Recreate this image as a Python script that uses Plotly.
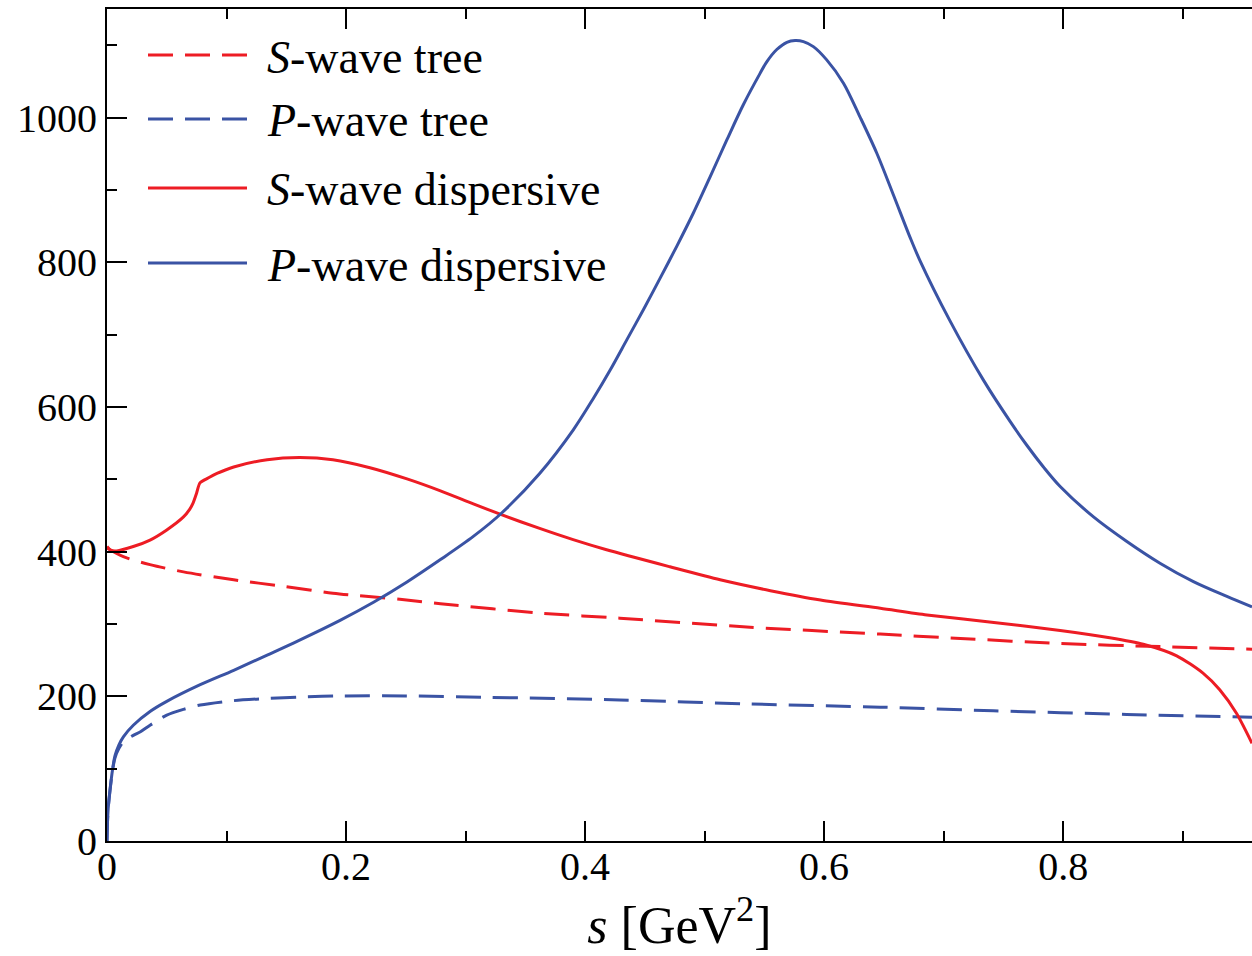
import plotly.graph_objects as go

# ---------------- data ----------------
s_tree_x = [0.0, 0.0137, 0.036, 0.064, 0.106, 0.148, 0.189, 0.245, 0.279, 0.362,
            0.429, 0.538, 0.647, 0.714, 0.7975, 0.881, 0.958]
s_tree_y = [405, 393, 382, 372, 361, 352, 342.5, 334, 328, 315,
            308, 295.5, 286, 280, 273, 268.7, 265]

p_tree_x = [0.0, 0.0005, 0.001, 0.0025, 0.0045, 0.0067, 0.0100, 0.0137, 0.022, 0.028,
            0.036, 0.05, 0.064, 0.078, 0.106, 0.134, 0.161, 0.195, 0.25, 0.32,
            0.429, 0.538, 0.647, 0.7417, 0.853, 0.958]
p_tree_y = [0, 30, 45, 70, 96, 115, 128, 137, 146, 151,
            160, 174, 182, 188, 194, 197, 199, 200.5, 200.5, 198.6,
            195, 189.4, 185, 180, 175, 171]

s_disp_x = [0.0, 0.003, 0.008, 0.022, 0.036, 0.05, 0.064, 0.069, 0.072, 0.075,
            0.0778, 0.085, 0.092, 0.106, 0.134, 0.161, 0.189, 0.22, 0.251, 0.279,
            0.3065, 0.330, 0.362, 0.390, 0.418, 0.471, 0.513, 0.555, 0.597, 0.647,
            0.686, 0.742, 0.7975, 0.839, 0.867, 0.895, 0.917, 0.931, 0.945, 0.958]
s_disp_y = [407, 402, 401, 407, 416, 430, 448, 458, 467, 481,
            495, 502, 508, 517, 527, 530, 527, 516, 500.5, 484,
            466, 451, 432, 416.5, 402.5, 379, 361, 346, 333, 321.7,
            312.5, 302, 291, 281, 272, 256, 232, 209, 176.5, 135]

p_disp_x = [0.0, 0.0005, 0.001, 0.0025, 0.0045, 0.0067, 0.0100, 0.0137, 0.022, 0.036,
            0.05, 0.078, 0.106, 0.134, 0.159, 0.195, 0.223, 0.251, 0.279, 0.3065,
            0.330, 0.362, 0.390, 0.407, 0.421, 0.435, 0.449, 0.4628, 0.477, 0.4906,
            0.5046, 0.5186, 0.5325, 0.5464, 0.552, 0.5604, 0.5688, 0.5757, 0.5827, 0.591,
            0.602, 0.6162, 0.630, 0.644, 0.658, 0.672, 0.680, 0.705, 0.7333, 0.7556,
            0.7696, 0.7835, 0.7975, 0.8254, 0.8533, 0.881, 0.909, 0.937, 0.958]
p_disp_y = [0, 30, 45, 70, 97, 118, 133, 144, 160, 179,
            193, 216, 236, 257, 276, 305, 330, 358, 389, 421,
            453, 508, 568, 612, 651, 693, 735, 778, 823, 868,
            918, 969, 1018, 1061, 1077, 1094, 1104, 1106.5, 1105, 1098,
            1080, 1047.5, 1001, 951, 893, 834, 803, 720, 637, 580,
            547, 517, 490, 448, 414, 384, 358.5, 338, 323.5]

legend_labels = ["<i>S</i>-wave tree", "<i>P</i>-wave tree",
                 "<i>S</i>-wave dispersive", "<i>P</i>-wave dispersive"]
x_tickvals = [0, 0.2, 0.4, 0.6, 0.8]
x_ticktext = ["0", "0.2", "0.4", "0.6", "0.8"]
y_tickvals = [0, 200, 400, 600, 800, 1000]

# ---------------- styling ----------------
RED = "#ED1C24"
BLUE = "#3A53A4"
FONT = "Liberation Serif"
DASH = "25px,12px"
W, H = 1252, 956
ML, MR, MT, MB = 107, 0, 9, 115

fig = go.Figure()
series = [
    (s_tree_x, s_tree_y, RED, DASH, legend_labels[0], 0.8),
    (p_tree_x, p_tree_y, BLUE, DASH, legend_labels[1], 0.8),
    (s_disp_x, s_disp_y, RED, "solid", legend_labels[2], 0.7),
    (p_disp_x, p_disp_y, BLUE, "solid", legend_labels[3], 0.9),
]
for xs, ys, col, dash, name, sm in series:
    fig.add_trace(go.Scatter(x=xs, y=ys, mode="lines", name=name, showlegend=False,
                             line=dict(color=col, width=3, dash=dash, shape="spline",
                                       smoothing=sm)))

# manual legend (long sample lines as in the reference)
def xp(px):
    return (px - ML) / (W - ML - MR)

def yp(py):
    return (H - MB - py) / (H - MB - MT)

leg_rows = [55, 119, 188, 263]
leg_styles = [(RED, "dash"), (BLUE, "dash"), (RED, "solid"), (BLUE, "solid")]
for row, (col, dsh), lab in zip(leg_rows, leg_styles, legend_labels):
    fig.add_shape(type="line", xref="paper", yref="paper",
                  x0=xp(148), x1=xp(247), y0=yp(row), y1=yp(row),
                  line=dict(color=col, width=3, dash=DASH if dsh == "dash" else "solid"))
    fig.add_annotation(xref="paper", yref="paper", x=xp(265), y=yp(row + 2),
                       xanchor="left", yanchor="middle", showarrow=False,
                       text=lab, font=dict(family=FONT, size=46, color="black"))

fig.update_layout(
    width=W, height=H,
    margin=dict(l=ML, r=MR, t=MT, b=MB, pad=0),
    paper_bgcolor="white", plot_bgcolor="white",
    font=dict(family=FONT, size=40, color="black"),
    showlegend=False,
    xaxis=dict(range=[0, 0.958], tickvals=x_tickvals, ticktext=x_ticktext,
               ticks="inside", ticklen=20, tickwidth=1.5, tickcolor="black",
               minor=dict(ticks="inside", dtick=0.1, tick0=0, ticklen=10,
                          tickwidth=1.5, tickcolor="black", showgrid=False),
               showline=True, linecolor="black", linewidth=2, mirror="ticks",
               showgrid=False, zeroline=False, ticklabelstandoff=-11,
               tickfont=dict(family=FONT, size=40),
               title=dict(text="<i>s</i> [GeV<sup>2</sup>]",
                          font=dict(family=FONT, size=52), standoff=14)),
    yaxis=dict(range=[0, 1150], tickvals=y_tickvals,
               ticks="inside", ticklen=20, tickwidth=1.5, tickcolor="black",
               minor=dict(ticks="inside", dtick=100, tick0=0, ticklen=10,
                          tickwidth=1.5, tickcolor="black", showgrid=False),
               showline=True, linecolor="black", linewidth=2, mirror=False,
               showgrid=False, zeroline=False,
               tickfont=dict(family=FONT, size=40), ticklabelstandoff=0),
    yaxis2=dict(overlaying="y", side="right", range=[0, 1150],
                tickvals=[200, 400, 600, 800, 1000], ticks="inside", ticklen=7,
                tickwidth=1.5, tickcolor="black", showticklabels=False,
                showline=False, showgrid=False, zeroline=False),
)

fig.write_html("out.html")
